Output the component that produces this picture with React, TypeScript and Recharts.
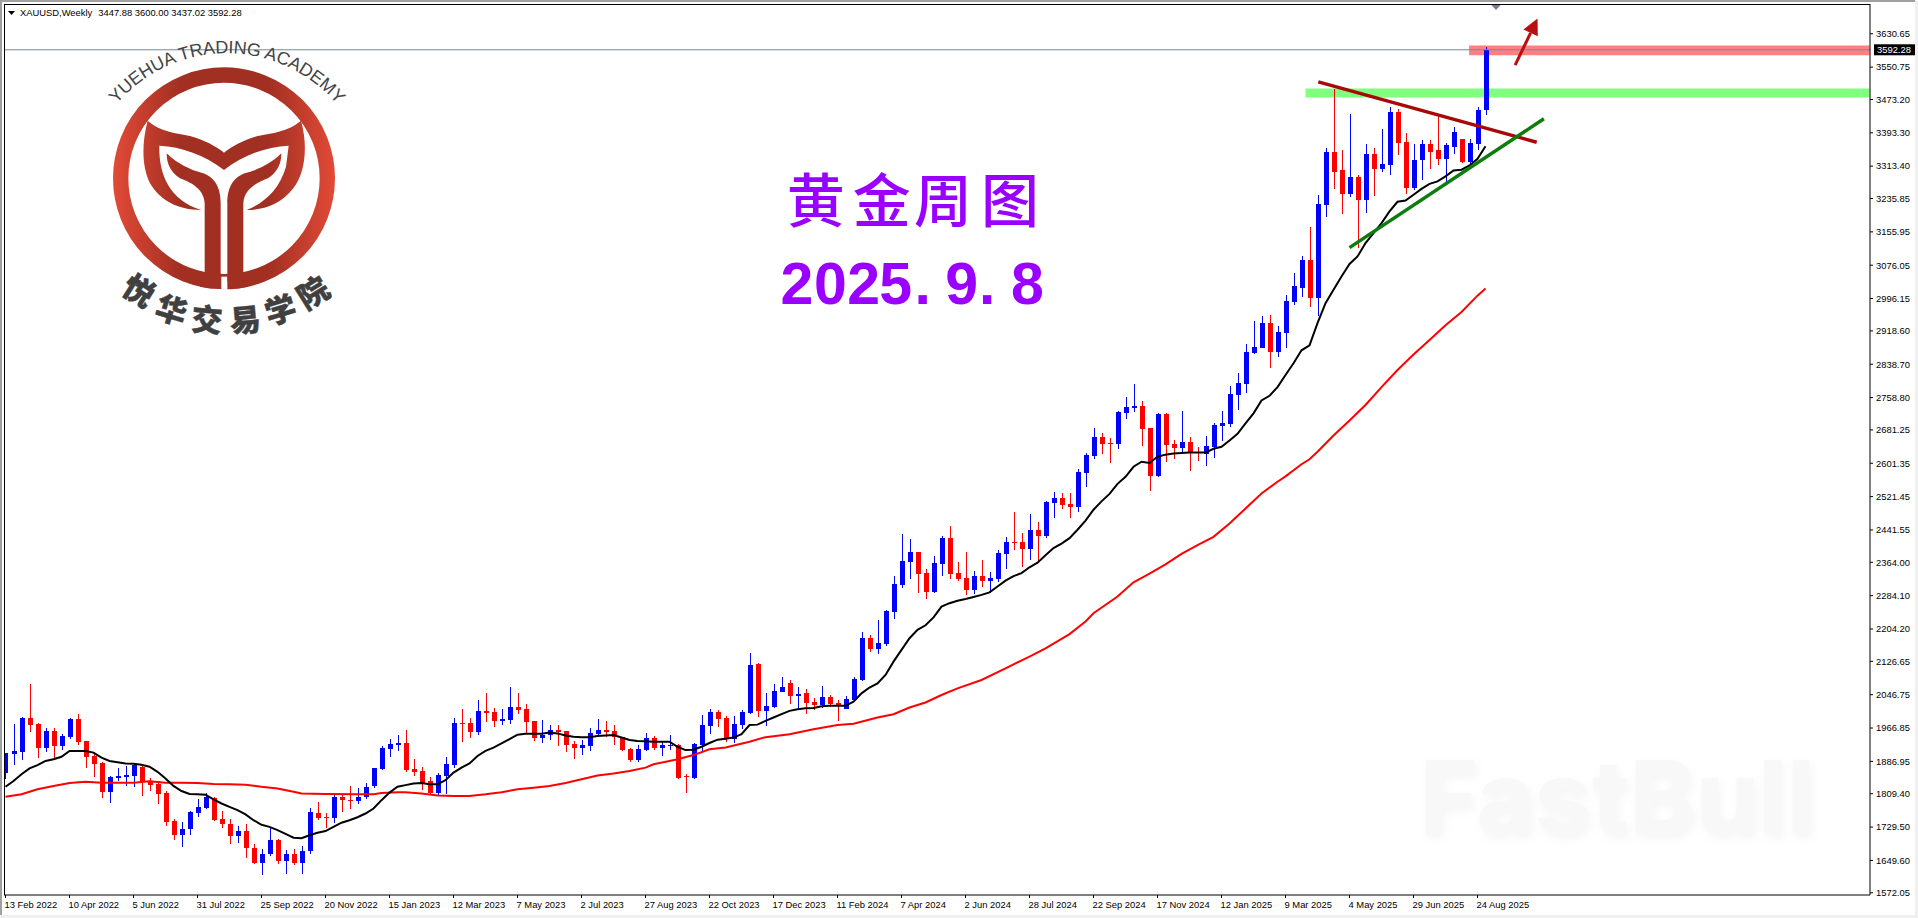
import React from "react";
import { ComposedChart, Bar, Line, XAxis, YAxis, ReferenceArea, ReferenceLine } from "recharts";

const opens = [
  1860,1904,1910,1991,1976,1920,1960,1924,1945,1988,
  1936,1900,1883,1814,1848,1850,1852,1874,1838,1832,
  1811,1744,1711,1725,1764,1776,1800,1748,1736,1708,
  1719,1680,1644,1665,1698,1648,1664,1644,1672,1764,
  1753,1751,1801,1795,1792,1801,1828,1868,1916,1927,
  1931,1868,1864,1839,1811,1852,1878,1979,1979,1957,
  2008,2005,1984,1986,2017,2012,1984,1943,1950,1962,
  1960,1928,1919,1924,1952,1962,1960,1945,1916,1890,
  1914,1943,1919,1924,1926,1852,1847,1926,1972,2005,
  1991,1940,1974,2003,2120,2008,2017,2053,2075,2044,
  2051,2029,2021,2041,2027,2012,2034,2082,2183,2156,
  2168,2245,2310,2365,2389,2339,2293,2360,2423,2339,
  2327,2298,2332,2320,2324,2384,2412,2412,2396,2441,
  2427,2506,2518,2504,2497,2578,2619,2665,2650,2648,
  2722,2734,2739,2686,2571,2720,2648,2638,2653,2629,
  2624,2641,2691,2696,2765,2792,2866,2878,2938,2869,
  2914,2989,3022,3089,2998,3221,3348,3303,3247,3288,
  3233,3343,3307,3317,3444,3372,3262,3327,3367,3351,
  3331,3360,3379,3324,3367,3447.88,
];
const closes = [
  1908,1912,1992,1975,1920,1960,1924,1948,1989,1934,
  1898,1881,1814,1849,1852,1854,1879,1838,1830,1809,
  1742,1711,1726,1765,1777,1802,1747,1736,1708,1719,
  1680,1644,1666,1698,1648,1664,1644,1673,1765,1752,
  1752,1801,1794,1792,1801,1825,1870,1919,1928,1931,
  1866,1861,1834,1811,1854,1880,1979,1976,1957,2008,
  2003,1984,1988,2017,2010,1981,1943,1950,1962,1957,
  1926,1919,1926,1955,1962,1957,1945,1914,1890,1916,
  1942,1919,1926,1926,1847,1849,1928,1974,2005,1988,
  1940,1976,2005,2118,2008,2020,2056,2065,2044,2048,
  2027,2022,2041,2024,2020,2036,2084,2183,2156,2171,
  2248,2312,2368,2389,2336,2293,2363,2423,2336,2324,
  2298,2332,2320,2327,2387,2413,2410,2396,2441,2427,
  2509,2518,2501,2497,2581,2622,2665,2648,2648,2725,
  2737,2739,2684,2571,2720,2645,2638,2653,2626,2626,
  2643,2693,2698,2768,2794,2869,2881,2938,2869,2917,
  2991,3027,3089,2998,3223,3348,3300,3247,3288,3233,
  3343,3307,3319,3444,3370,3262,3329,3367,3348,3331,
  3363,3396,3324,3370,3449,3592.28,
];
const highs = [
  1908,1976,1994,2072,1980,1968,1968,1952,1991,2000,
  1936,1906,1885,1852,1870,1876,1882,1880,1848,1838,
  1816,1748,1741,1768,1796,1810,1802,1768,1748,1732,
  1736,1690,1676,1730,1700,1674,1676,1684,1775,1789,
  1764,1806,1806,1828,1824,1834,1870,1924,1940,1950,
  1962,1892,1873,1850,1858,1897,1991,2012,1991,2034,
  2051,2016,2012,2065,2051,2024,1984,1986,1974,1974,
  1960,1936,1938,1967,1988,1984,1974,1945,1919,1926,
  1954,1947,1936,1950,1928,1856,1931,1998,2012,2010,
  1996,1996,2010,2147,2123,2051,2072,2089,2082,2065,
  2060,2039,2068,2046,2034,2044,2089,2197,2190,2226,
  2250,2332,2432,2420,2389,2348,2380,2428,2452,2365,
  2389,2344,2370,2341,2394,2425,2484,2434,2480,2461,
  2511,2533,2530,2530,2588,2626,2686,2674,2662,2727,
  2761,2792,2751,2686,2722,2722,2657,2727,2665,2641,
  2667,2698,2727,2787,2818,2888,2943,2955,2957,2931,
  3005,3058,3099,3168,3245,3358,3499,3353,3439,3291,
  3367,3358,3403,3454,3451,3394,3367,3375,3377,3435,
  3370,3408,3379,3379,3454,3600,
];
const lows = [
  1845,1878,1890,1958,1896,1910,1896,1914,1940,1926,
  1872,1850,1800,1788,1840,1828,1826,1804,1816,1784,
  1732,1699,1682,1711,1754,1772,1744,1728,1689,1691,
  1656,1640,1614,1660,1640,1616,1638,1616,1665,1747,
  1727,1740,1766,1772,1784,1797,1824,1866,1897,1912,
  1861,1852,1818,1808,1805,1809,1872,1933,1943,1950,
  1982,1969,1974,1976,2000,1952,1936,1931,1938,1924,
  1909,1892,1902,1912,1948,1945,1926,1912,1885,1885,
  1912,1914,1900,1914,1844,1811,1844,1912,1952,1969,
  1933,1931,1964,2000,1993,1972,2015,2053,2024,2012,
  2000,2010,2015,2017,1984,2012,2032,2080,2149,2144,
  2164,2228,2303,2324,2291,2276,2291,2332,2324,2320,
  2286,2288,2305,2291,2317,2349,2393,2353,2369,2364,
  2422,2470,2492,2470,2485,2545,2612,2624,2602,2636,
  2708,2725,2643,2535,2569,2605,2612,2626,2583,2607,
  2595,2614,2655,2689,2729,2770,2864,2878,2830,2857,
  2878,2981,3000,2976,2955,3192,3259,3199,3240,3118,
  3202,3243,3300,3291,3339,3247,3257,3281,3307,3317,
  3274,3343,3322,3315,3351,3437.02,
];
const maBlack = [
  1826,1840,1856,1870,1878,1888,1892,1898,1912,1912,
  1912,1908,1896,1888,1885,1882,1881,1879,1874,1862,
  1846,1828,1816,1809,1808,1807,1796,1786,1778,1770,
  1760,1746,1735,1730,1722,1713,1704,1703,1710,1716,
  1720,1730,1740,1746,1753,1762,1774,1794,1812,1826,
  1830,1834,1835,1832,1832,1842,1860,1872,1882,1900,
  1912,1920,1930,1940,1951,1953,1953,1953,1956,1954,
  1949,1946,1945,1945,1948,1949,1950,1944,1938,1936,
  1935,1934,1934,1934,1922,1914,1915,1922,1931,1939,
  1941,1944,1952,1974,1975,1984,1992,2000,2008,2012,
  2014,2015,2019,2020,2020,2020,2030,2050,2064,2074,
  2094,2126,2154,2182,2202,2213,2232,2258,2266,2272,
  2276,2281,2286,2292,2306,2320,2331,2338,2352,2363,
  2381,2398,2409,2422,2442,2464,2490,2510,2528,2552,
  2569,2593,2605,2602,2617,2622,2625,2626,2627,2627,
  2627,2636,2641,2656,2672,2697,2721,2752,2763,2784,
  2813,2841,2872,2884,2937,2985,3017,3049,3079,3097,
  3129,3153,3177,3205,3228,3231,3245,3259,3271,3277,
  3289,3303,3305,3315,3331,3361,
];
const maRedWeeks = [
  0,2,4,6,8,10,12,14,16,18,20,22,24,26,28,30,32,34,36,37,40,44,46,47,49,50,52,54,56,58,60,62,64,66,68,70,72,74,76,78,
  80,81,83,84,86,88,90,93,95,98,101,104,106,109,111,113,115,117,119,122,125,128,130,133,135,136,139,141,143,145,147,149,
  151,153,155,157,159,160,162,163,164,166,168,170,172,174,176,178,180,182,184,185,
];
const maRedValues = [
  1802,1808,1820,1828,1835,1838,1836,1836,1836,1839,1836,1836,1835,1833,1832,1831,1826,1822,1814,1810,1809,1808,1808,1811,1813,1813,1810,1805,1804,1804,1808,1813,1820,1824,1828,1835,1844,1853,1858,1864,
  1872,1880,1888,1892,1902,1916,1920,1934,1945,1952,1964,1974,1977,1992,2000,2016,2028,2046,2062,2082,2110,2138,2158,2192,2222,2242,2282,2316,2337,2359,2384,2405,
  2425,2457,2493,2529,2557,2570,2599,2611,2629,2668,2704,2741,2784,2825,2862,2897,2932,2964,3003,3020,
];
const dateLabels = [
  "13 Feb 2022","10 Apr 2022","5 Jun 2022","31 Jul 2022","25 Sep 2022","20 Nov 2022","15 Jan 2023","12 Mar 2023",
  "7 May 2023","2 Jul 2023","27 Aug 2023","22 Oct 2023","17 Dec 2023","11 Feb 2024","7 Apr 2024","2 Jun 2024",
  "28 Jul 2024","22 Sep 2024","17 Nov 2024","12 Jan 2025","9 Mar 2025","4 May 2025","29 Jun 2025","24 Aug 2025",
];
const priceTicks = [
  3630.65,3550.75,3473.2,3393.3,3313.4,3235.85,3155.95,3076.05,2996.15,2918.6,2838.7,2758.8,2681.25,2601.35,
  2521.45,2441.55,2364,2284.1,2204.2,2126.65,2046.75,1966.85,1886.95,1809.4,1729.5,1649.6,1572.05,
];
const lastPrice = 3592.28;
const resistanceZone = { x1: 182.95, x2: 233, y1: 3579.3, y2: 3602.6 };
const supportZone = { x1: 162.5, x2: 233, y1: 3478, y2: 3499.5 };
const fallingLine = [{ x: 164.1, y: 3515.5 }, { x: 191.4, y: 3370.7 }];
const risingLine = [{ x: 168, y: 3118.2 }, { x: 192.3, y: 3426.8 }];
const arrowLine = [{ x: 188.7, y: 3555.3 }, { x: 191.5, y: 3667.3 }];

const rows = opens.map((open, i) => {
  const k = maRedWeeks.indexOf(i);
  return {
    week: i,
    open,
    close: closes[i],
    high: highs[i],
    low: lows[i],
    maBlack: maBlack[i],
    maRed: k >= 0 ? maRedValues[k] : null,
  };
});

const FONT = "'Liberation Sans', Arial, sans-serif";
const BLUE = "#0000ff";
const RED = "#ff0000";

function Candle(props: any) {
  const { x, y, width, height, payload } = props;
  if (!payload || !(height > 0)) return null;
  const k = height / (payload.high - payload.low);
  const cx = Math.floor(x + width / 2);
  const bodyTop = y + (payload.high - Math.max(payload.open, payload.close)) * k;
  const bodyH = Math.max(1, Math.abs(payload.open - payload.close) * k);
  const color = payload.close >= payload.open ? BLUE : RED;
  return (
    <g shapeRendering="crispEdges">
      <rect x={cx} y={y} width={1} height={height} fill={color} />
      <rect x={cx - 2} y={bodyTop} width={5} height={bodyH} fill={color} />
    </g>
  );
}

function ArrowShape(props: any) {
  const { x1, y1, x2, y2 } = props;
  const len = Math.hypot(x2 - x1, y2 - y1) || 1;
  const ux = (x2 - x1) / len;
  const uy = (y2 - y1) / len;
  const bx = x2 - ux * 16;
  const by = y2 - uy * 16;
  return (
    <g>
      <line x1={x1} y1={y1} x2={bx} y2={by} stroke="#b80f0f" strokeWidth={3} />
      <polygon
        points={`${x2},${y2} ${bx - uy * 8},${by + ux * 8} ${bx + uy * 8},${by - ux * 8}`}
        fill="#b80f0f"
      />
    </g>
  );
}

function PriceLine(props: any) {
  const { x1, x2, y1, y2 } = props;
  const right = Math.max(x1, x2);
  return (
    <g>
      <line x1={x1} y1={y1} x2={x2} y2={y2} stroke="#778899" strokeWidth={1} />
      <rect x={right + 4} y={y1 - 5.5} width={42} height={11} fill="#000" />
      <text x={right + 7} y={y1 + 3.5} fill="#fff" fontFamily={FONT} fontSize={9.4}>
        {lastPrice.toFixed(2)}
      </text>
    </g>
  );
}

function DateTick(props: any) {
  const { x, y, payload } = props;
  return (
    <text x={x - 1} y={y + 8} fontFamily={FONT} fontSize={9.4} fill="#000" textAnchor="start">
      {dateLabels[Math.round(payload.value / 8)]}
    </text>
  );
}

const cnChars = [
  { c: "悦", x: 140, y: 289, r: 32 },
  { c: "华", x: 172, y: 308, r: 17 },
  { c: "交", x: 207, y: 318, r: 5 },
  { c: "易", x: 245, y: 318, r: -5 },
  { c: "学", x: 280, y: 308, r: -17 },
  { c: "院", x: 312, y: 291, r: -32 },
];
const titleDigits = [
  { c: "2", x: 797 }, { c: "0", x: 830.3 }, { c: "2", x: 863.7 }, { c: "5", x: 895.7 },
  { c: ".", x: 922.7 }, { c: "9", x: 961.7 }, { c: ".", x: 987.3 }, { c: "8", x: 1027.3 },
];
const titleChars = [
  { c: "黄", x: 815.7 }, { c: "金", x: 881.7 }, { c: "周", x: 943 }, { c: "图", x: 1010 },
];

function Overlay() {
  return (
    <svg width={1918} height={918} style={{ position: "absolute", left: 0, top: 0, pointerEvents: "none" }}>
      <defs>
        <linearGradient id="logoG" gradientUnits="userSpaceOnUse" x1={339} x2={1005} y1={0} y2={0}>
          <stop offset="0" stopColor="#e24a37" />
          <stop offset="0.3" stopColor="#a23022" />
          <stop offset="0.7" stopColor="#a23022" />
          <stop offset="1" stopColor="#e24a37" />
        </linearGradient>
        <path id="logoArc" d="M 350 312 A 434 434 0 0 1 1010 312" fill="none" />
      </defs>

      <text x={20} y={15.5} fontFamily={FONT} fontSize={9.4} fill="#000">
        <tspan>XAUUSD,Weekly</tspan>
        <tspan dx={6}>3447.88 3600.00 3437.02 3592.28</tspan>
      </text>
      <polygon points="8,11 15,11 11.5,15" fill="#000" />
      <polygon points="1491,4.5 1501,4.5 1496,10" fill="#708090" />

      <g transform="scale(0.33333)">
        <circle cx={672} cy={535} r={310} fill="none" stroke="url(#logoG)" strokeWidth={46} />
        <rect x={664} y={830} width={18} height={50} fill="#fff" />
        <path
          fill="url(#logoG)"
          d="M443 362 C480 395 530 400 570 408 C610 418 650 440 672 458 C694 440 734 418 774 408 C814 400 864 395 903 362 C925 440 915 520 880 565 C840 615 790 630 740 630 C790 610 838 570 858 500 L866 437 C800 440 730 465 672 510 C614 465 544 440 478 437 C476 520 506 600 604 630 C530 630 480 600 450 550 C425 500 425 430 443 362 Z"
        />
        <path
          fill="url(#logoG)"
          d="M500 460 C530 490 570 510 610 520 C650 535 662 570 662 610 L662 840 C660 860 640 868 625 865 L600 860 L614 815 L614 610 C612 570 580 550 540 535 C510 515 500 490 500 460 Z"
        />
        <path
          fill="url(#logoG)"
          d="M844 460 C814 490 774 510 734 520 C694 535 682 570 682 610 L682 840 C684 860 704 868 719 865 L744 860 L730 815 L730 610 C732 570 764 550 804 535 C834 515 844 490 844 460 Z"
        />
        <text fontFamily={FONT} fontSize={54} fill="#444">
          <textPath href="#logoArc" textLength={752} lengthAdjust="spacing">YUEHUA TRADING ACADEMY</textPath>
        </text>
      </g>
      {cnChars.map((d) => (
        <text
          key={d.c}
          x={d.x}
          y={d.y}
          fontFamily="'Noto Sans CJK SC'"
          fontWeight={900}
          fontSize={31}
          fill="#404040"
          stroke="#404040"
          strokeWidth={0.4}
          textAnchor="middle"
          dominantBaseline="central"
          transform={`rotate(${d.r} ${d.x} ${d.y})`}
        >
          {d.c}
        </text>
      ))}

      {titleChars.map((d) => (
        <text key={d.c} x={d.x} y={197} fontFamily="'Noto Sans CJK SC'" fontWeight={500} fontSize={58} fill="#9900ff" textAnchor="middle" dominantBaseline="central">
          {d.c}
        </text>
      ))}
      {titleDigits.map((d, i) => (
        <text key={i} x={d.x} y={304} fontFamily={FONT} fontWeight={700} fontSize={59} fill="#9900ff" textAnchor="middle">
          {d.c}
        </text>
      ))}

      <text
        x={1420}
        y={834}
        fontFamily="Inter, sans-serif"
        fontWeight={800}
        fontSize={102}
        textLength={395}
        lengthAdjust="spacingAndGlyphs"
        fill="#f8f8f8"
        style={{ filter: "drop-shadow(2px 4px 5px rgba(0,0,0,0.04))" }}
      >
        FastBull
      </text>
    </svg>
  );
}

export default function App() {
  return (
    <div style={{ position: "fixed", left: 0, top: 0, width: 1918, height: 918, background: "#fff", overflow: "hidden" }}>
      <ComposedChart
        width={1918}
        height={918}
        data={rows}
        margin={{ top: 4, right: 0, bottom: 0, left: 4 }}
        barCategoryGap={0}
      >
        <XAxis
          dataKey="week"
          type="number"
          domain={[-0.1875, 233.06]}
          allowDataOverflow
          ticks={dateLabels.map((_, i) => i * 8)}
          interval={0}
          tickSize={3}
          height={23}
          tick={<DateTick />}
          stroke="#000"
        />
        <YAxis
          orientation="right"
          type="number"
          width={48}
          domain={[1566.7, 3702]}
          allowDataOverflow
          ticks={priceTicks}
          interval={0}
          tickSize={3}
          tickMargin={3}
          tick={{ fontFamily: FONT, fontSize: 9.4, fill: "#000" }}
          tickFormatter={(v: number) => v.toFixed(2)}
          stroke="#000"
        />
        <ReferenceArea {...resistanceZone} fill="#ff8080" fillOpacity={1} stroke="none" ifOverflow="visible" />
        <ReferenceArea {...supportZone} fill="#80ff80" fillOpacity={1} stroke="none" ifOverflow="visible" />
        <ReferenceLine y={lastPrice} ifOverflow="visible" shape={<PriceLine />} />
        <Bar dataKey={(d: any) => [d.low, d.high]} barSize={5} shape={<Candle />} isAnimationActive={false} />
        <Line dataKey="maRed" stroke="#ff0000" strokeWidth={2} dot={false} connectNulls isAnimationActive={false} />
        <Line dataKey="maBlack" stroke="#000" strokeWidth={2} dot={false} isAnimationActive={false} />
        <ReferenceLine segment={fallingLine} stroke="#a80808" strokeWidth={3.5} ifOverflow="visible" />
        <ReferenceLine segment={risingLine} stroke="#0c7c0c" strokeWidth={3.5} ifOverflow="visible" />
        <ReferenceLine segment={arrowLine} ifOverflow="visible" shape={<ArrowShape />} />
      </ComposedChart>
      <Overlay />
      <div style={{ position: "absolute", left: 4, top: 4, width: 1866, height: 891, borderLeft: "1px solid #000", borderTop: "1px solid #000", boxSizing: "border-box" }} />
      <div style={{ position: "absolute", left: 0, top: 0, width: 1918, height: 2, background: "#a0a0a0" }} />
      <div style={{ position: "absolute", left: 0, top: 0, width: 2, height: 918, background: "#a0a0a0" }} />
      <div style={{ position: "absolute", right: 0, top: 0, width: 3, height: 918, background: "#f0f0f0" }} />
      <div style={{ position: "absolute", left: 0, bottom: 0, width: 1918, height: 3, background: "#f0f0f0" }} />
    </div>
  );
}
